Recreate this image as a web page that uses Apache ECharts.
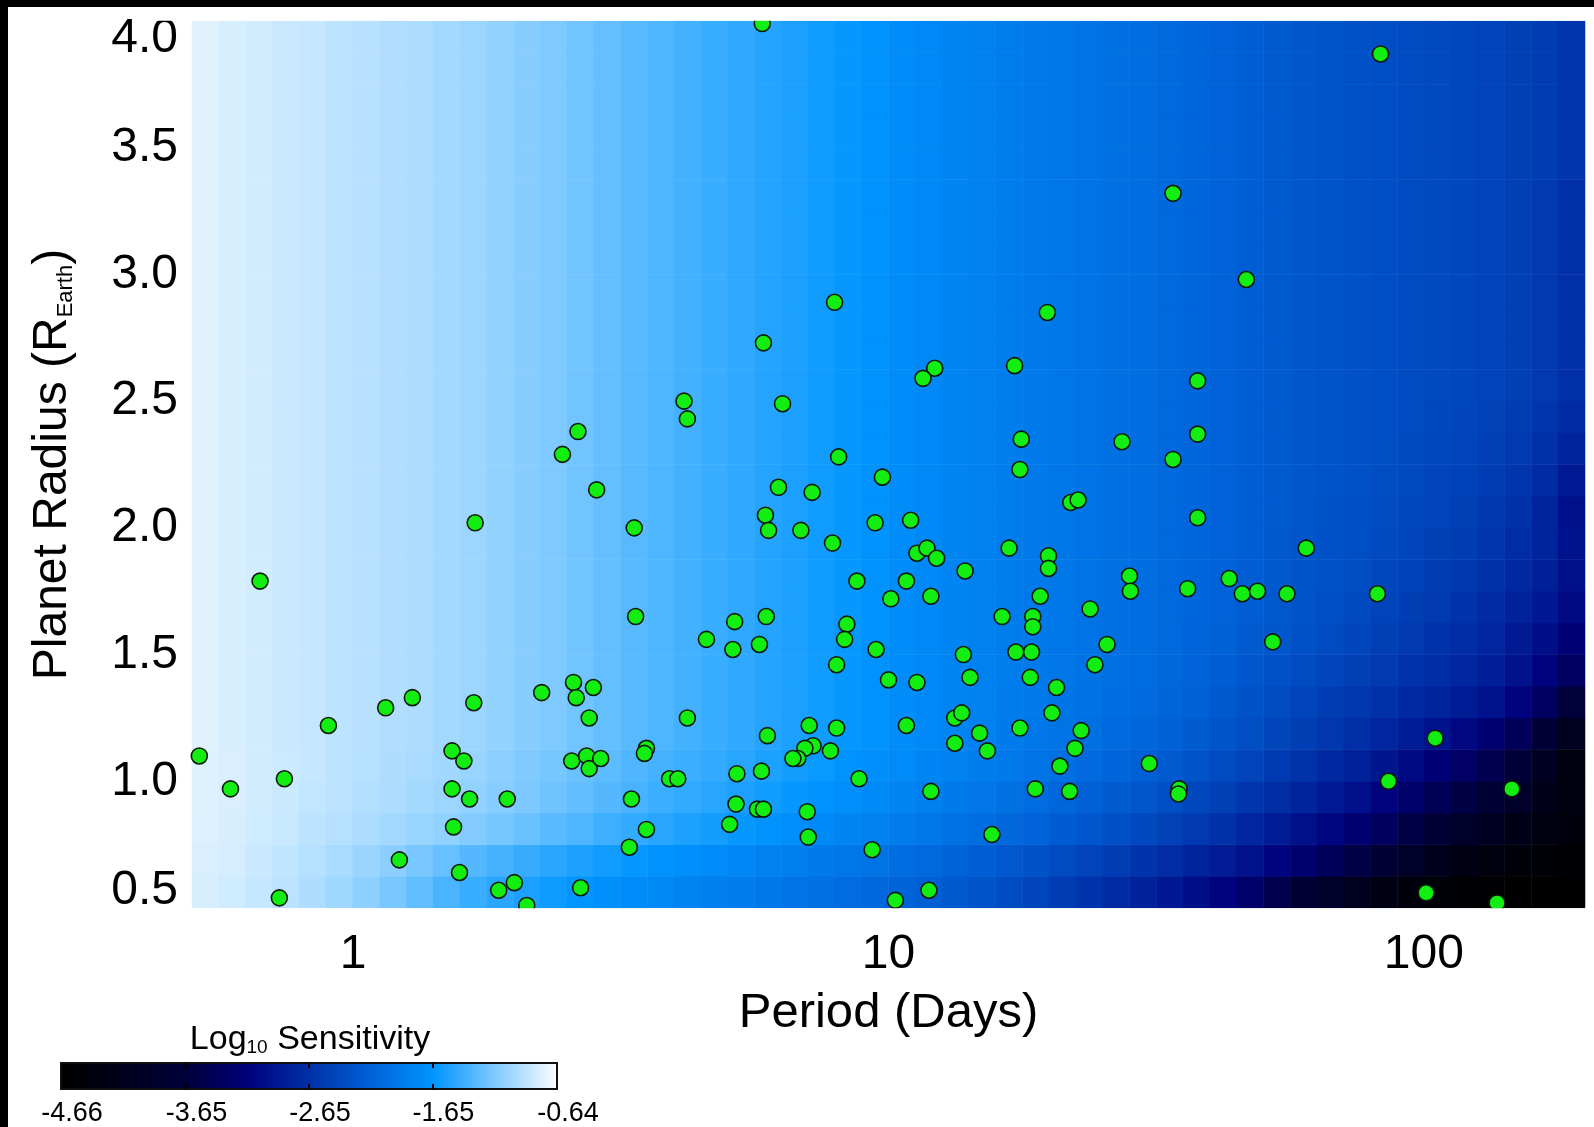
<!DOCTYPE html>
<html>
<head>
<meta charset="utf-8">
<script src="https://cdn.jsdelivr.net/npm/echarts@6/dist/echarts.min.js"></script>
<style>
html, body { margin: 0; padding: 0; background: #fff; }
#chart { width: 1594px; height: 1127px; }
</style>
</head>
<body>
<div id="chart"></div>
<script>
// Sensitivity map bins: log10(period / days) column centres, radius row centres (R_Earth)
const logPeriodBins = [
  -0.275, -0.225, -0.175, -0.125, -0.075, -0.025, 0.025, 0.075, 0.125, 0.175,
  0.225, 0.275, 0.325, 0.375, 0.425, 0.475, 0.525, 0.575, 0.625, 0.675,
  0.725, 0.775, 0.825, 0.875, 0.925, 0.975, 1.025, 1.075, 1.125, 1.175,
  1.225, 1.275, 1.325, 1.375, 1.425, 1.475, 1.525, 1.575, 1.625, 1.675,
  1.725, 1.775, 1.825, 1.875, 1.925, 1.975, 2.025, 2.075, 2.125, 2.175,
  2.225, 2.275
];
const radiusBins = [0.5625, 0.6875, 0.8125, 0.9375, 1.0625, 1.1875, 1.3125, 1.4375, 1.5625, 1.6875,
                    1.8125, 1.9375, 2.0625, 2.1875, 2.3125, 2.4375, 2.5625, 2.6875, 2.8125, 2.9375,
                    3.0625, 3.1875, 3.3125, 3.4375, 3.5625, 3.6875, 3.8125, 3.9375];

// log10 sensitivity rows (radius bins, bottom first); each row runs over the period bins
const rowR0563 = [-0.80,-0.83,-0.87,-0.91,-0.96,-1.02,-1.09,-1.17,-1.26,-1.35,-1.42,-1.48,-1.54,-1.59,-1.64,-1.69,-1.73,-1.77,-1.81,-1.85,-1.89,-1.93,-1.97,-2.01,-2.05,-2.09,-2.13,-2.18,-2.24,-2.30,-2.37,-2.44,-2.52,-2.61,-2.70,-2.80,-2.90,-3.00,-3.12,-3.28,-3.50,-3.72,-3.92,-4.10,-4.28,-4.42,-4.52,-4.58,-4.62,-4.64,-4.65,-4.65];
const rowR0688 = [-0.79,-0.81,-0.85,-0.89,-0.93,-0.98,-1.04,-1.10,-1.17,-1.24,-1.31,-1.37,-1.43,-1.48,-1.53,-1.58,-1.62,-1.66,-1.70,-1.74,-1.78,-1.82,-1.86,-1.90,-1.94,-1.98,-2.03,-2.08,-2.13,-2.19,-2.25,-2.31,-2.38,-2.46,-2.53,-2.61,-2.69,-2.78,-2.87,-2.97,-3.10,-3.25,-3.40,-3.56,-3.75,-3.95,-4.13,-4.28,-4.40,-4.48,-4.53,-4.57];
const rowR0813 = [-0.78,-0.80,-0.83,-0.86,-0.90,-0.93,-0.97,-1.00,-1.04,-1.08,-1.13,-1.18,-1.23,-1.29,-1.34,-1.40,-1.45,-1.49,-1.53,-1.57,-1.62,-1.66,-1.71,-1.75,-1.80,-1.84,-1.89,-1.94,-1.99,-2.04,-2.09,-2.15,-2.21,-2.27,-2.34,-2.41,-2.48,-2.56,-2.64,-2.76,-2.86,-2.98,-3.09,-3.22,-3.37,-3.55,-3.72,-3.90,-4.07,-4.22,-4.35,-4.45];
const rowR0938 = [-0.77,-0.79,-0.82,-0.85,-0.88,-0.91,-0.94,-0.97,-1.00,-1.03,-1.07,-1.11,-1.16,-1.21,-1.26,-1.31,-1.36,-1.41,-1.45,-1.49,-1.54,-1.58,-1.62,-1.66,-1.71,-1.75,-1.80,-1.85,-1.90,-1.95,-2.00,-2.05,-2.11,-2.17,-2.22,-2.28,-2.35,-2.42,-2.50,-2.60,-2.69,-2.78,-2.88,-2.98,-3.12,-3.28,-3.43,-3.58,-3.75,-3.95,-4.20,-4.40];
const rowR1063 = [-0.77,-0.79,-0.82,-0.84,-0.87,-0.90,-0.93,-0.96,-0.98,-1.01,-1.05,-1.09,-1.14,-1.18,-1.23,-1.28,-1.33,-1.37,-1.41,-1.45,-1.49,-1.53,-1.57,-1.61,-1.66,-1.70,-1.74,-1.79,-1.83,-1.88,-1.92,-1.97,-2.02,-2.07,-2.12,-2.17,-2.23,-2.30,-2.38,-2.46,-2.55,-2.63,-2.72,-2.81,-2.92,-3.05,-3.18,-3.32,-3.50,-3.70,-4.05,-4.40];
const rowR1188 = [-0.76,-0.80,-0.82,-0.85,-0.87,-0.90,-0.92,-0.95,-0.97,-1.00,-1.03,-1.07,-1.11,-1.15,-1.20,-1.25,-1.30,-1.34,-1.38,-1.42,-1.46,-1.50,-1.54,-1.58,-1.62,-1.67,-1.72,-1.76,-1.80,-1.84,-1.90,-1.94,-1.98,-2.02,-2.07,-2.11,-2.16,-2.22,-2.29,-2.36,-2.44,-2.51,-2.59,-2.67,-2.76,-2.86,-2.96,-3.08,-3.22,-3.40,-3.70,-4.10];
const rowR1313 = [-0.76,-0.80,-0.82,-0.85,-0.87,-0.90,-0.92,-0.95,-0.97,-1.00,-1.03,-1.07,-1.11,-1.15,-1.20,-1.25,-1.30,-1.34,-1.38,-1.42,-1.46,-1.50,-1.54,-1.58,-1.62,-1.67,-1.72,-1.76,-1.80,-1.84,-1.89,-1.92,-1.96,-1.99,-2.03,-2.07,-2.12,-2.17,-2.24,-2.31,-2.38,-2.45,-2.52,-2.58,-2.64,-2.71,-2.78,-2.86,-2.97,-3.12,-3.35,-3.65];
const rowR1438 = [-0.76,-0.80,-0.82,-0.85,-0.87,-0.90,-0.92,-0.95,-0.97,-1.00,-1.03,-1.07,-1.11,-1.15,-1.20,-1.25,-1.30,-1.34,-1.38,-1.42,-1.46,-1.50,-1.54,-1.58,-1.62,-1.67,-1.72,-1.76,-1.80,-1.84,-1.88,-1.91,-1.95,-1.98,-2.02,-2.05,-2.09,-2.14,-2.20,-2.26,-2.32,-2.38,-2.44,-2.50,-2.56,-2.62,-2.68,-2.74,-2.83,-2.95,-3.12,-3.35];
const rowR1563 = [-0.76,-0.80,-0.82,-0.85,-0.87,-0.90,-0.92,-0.95,-0.97,-1.00,-1.03,-1.07,-1.11,-1.15,-1.20,-1.25,-1.30,-1.34,-1.38,-1.42,-1.46,-1.50,-1.54,-1.58,-1.62,-1.67,-1.72,-1.76,-1.80,-1.84,-1.88,-1.91,-1.94,-1.97,-2.01,-2.04,-2.08,-2.12,-2.17,-2.22,-2.27,-2.32,-2.38,-2.44,-2.50,-2.56,-2.62,-2.68,-2.76,-2.88,-3.00,-3.18];
const rowR1688 = [-0.76,-0.80,-0.82,-0.85,-0.87,-0.90,-0.92,-0.95,-0.97,-1.00,-1.03,-1.07,-1.11,-1.15,-1.20,-1.25,-1.30,-1.34,-1.38,-1.42,-1.46,-1.50,-1.54,-1.58,-1.62,-1.67,-1.72,-1.76,-1.80,-1.84,-1.88,-1.91,-1.94,-1.97,-2.01,-2.04,-2.08,-2.11,-2.15,-2.20,-2.25,-2.30,-2.35,-2.40,-2.45,-2.51,-2.56,-2.62,-2.70,-2.80,-2.90,-3.05];
const rowR1813 = [-0.76,-0.80,-0.82,-0.85,-0.87,-0.90,-0.92,-0.95,-0.97,-1.00,-1.03,-1.07,-1.11,-1.15,-1.20,-1.25,-1.30,-1.34,-1.38,-1.42,-1.46,-1.50,-1.54,-1.58,-1.62,-1.67,-1.72,-1.76,-1.80,-1.84,-1.88,-1.91,-1.94,-1.97,-2.01,-2.04,-2.08,-2.11,-2.15,-2.20,-2.24,-2.29,-2.33,-2.37,-2.42,-2.47,-2.52,-2.57,-2.64,-2.73,-2.82,-2.98];
const rowR1938 = [-0.76,-0.80,-0.82,-0.85,-0.87,-0.90,-0.92,-0.95,-0.97,-1.00,-1.03,-1.07,-1.11,-1.15,-1.20,-1.25,-1.30,-1.34,-1.38,-1.42,-1.46,-1.50,-1.54,-1.58,-1.62,-1.67,-1.72,-1.76,-1.80,-1.84,-1.88,-1.91,-1.94,-1.97,-2.01,-2.04,-2.08,-2.11,-2.15,-2.19,-2.24,-2.28,-2.32,-2.35,-2.40,-2.44,-2.49,-2.53,-2.60,-2.68,-2.78,-2.95];
const rowR2063 = [-0.76,-0.80,-0.82,-0.85,-0.87,-0.90,-0.92,-0.95,-0.97,-1.00,-1.03,-1.07,-1.11,-1.15,-1.20,-1.25,-1.30,-1.34,-1.38,-1.42,-1.46,-1.50,-1.54,-1.58,-1.62,-1.67,-1.72,-1.76,-1.80,-1.84,-1.88,-1.91,-1.94,-1.97,-2.01,-2.04,-2.08,-2.11,-2.15,-2.19,-2.23,-2.27,-2.31,-2.34,-2.38,-2.42,-2.46,-2.50,-2.57,-2.64,-2.78,-2.98];
const rowR2188 = [-0.76,-0.80,-0.82,-0.85,-0.87,-0.90,-0.92,-0.95,-0.97,-1.00,-1.03,-1.07,-1.11,-1.15,-1.20,-1.25,-1.30,-1.34,-1.38,-1.42,-1.46,-1.50,-1.54,-1.58,-1.62,-1.67,-1.72,-1.76,-1.80,-1.84,-1.88,-1.91,-1.94,-1.97,-2.01,-2.04,-2.08,-2.11,-2.15,-2.19,-2.23,-2.26,-2.30,-2.33,-2.37,-2.40,-2.44,-2.47,-2.53,-2.60,-2.70,-2.88];
const rowR2313 = [-0.76,-0.80,-0.82,-0.85,-0.87,-0.90,-0.92,-0.95,-0.97,-1.00,-1.03,-1.07,-1.11,-1.15,-1.20,-1.25,-1.30,-1.34,-1.38,-1.42,-1.46,-1.50,-1.54,-1.58,-1.62,-1.67,-1.72,-1.76,-1.80,-1.84,-1.88,-1.91,-1.94,-1.97,-2.01,-2.04,-2.08,-2.11,-2.15,-2.19,-2.23,-2.26,-2.29,-2.32,-2.36,-2.39,-2.42,-2.45,-2.50,-2.56,-2.64,-2.78];
const rowR2438 = [-0.76,-0.80,-0.82,-0.85,-0.87,-0.90,-0.92,-0.95,-0.97,-1.00,-1.03,-1.07,-1.11,-1.15,-1.20,-1.25,-1.30,-1.34,-1.38,-1.42,-1.46,-1.50,-1.54,-1.58,-1.62,-1.67,-1.72,-1.76,-1.80,-1.84,-1.88,-1.91,-1.94,-1.97,-2.01,-2.04,-2.08,-2.11,-2.15,-2.19,-2.23,-2.26,-2.29,-2.32,-2.35,-2.38,-2.41,-2.44,-2.48,-2.53,-2.60,-2.70];
const rowMid   = [-0.76,-0.80,-0.82,-0.85,-0.87,-0.90,-0.92,-0.95,-0.97,-1.00,-1.03,-1.07,-1.11,-1.15,-1.20,-1.25,-1.30,-1.34,-1.38,-1.42,-1.46,-1.50,-1.54,-1.58,-1.62,-1.67,-1.72,-1.76,-1.80,-1.84,-1.88,-1.91,-1.94,-1.97,-2.01,-2.04,-2.08,-2.11,-2.15,-2.19,-2.23,-2.26,-2.29,-2.32,-2.35,-2.38,-2.40,-2.43,-2.46,-2.50,-2.56,-2.66];
const rowTop   = [-0.76,-0.80,-0.82,-0.85,-0.87,-0.90,-0.92,-0.95,-0.97,-1.00,-1.03,-1.07,-1.11,-1.15,-1.20,-1.25,-1.30,-1.34,-1.38,-1.42,-1.46,-1.50,-1.54,-1.58,-1.62,-1.67,-1.72,-1.76,-1.80,-1.84,-1.88,-1.91,-1.94,-1.97,-2.01,-2.04,-2.08,-2.11,-2.15,-2.19,-2.23,-2.26,-2.29,-2.32,-2.35,-2.38,-2.40,-2.43,-2.46,-2.49,-2.53,-2.60];

const sensitivity = [
  rowR0563, rowR0688, rowR0813, rowR0938, rowR1063, rowR1188, rowR1313, rowR1438,
  rowR1563, rowR1688, rowR1813, rowR1938, rowR2063, rowR2188, rowR2313, rowR2438,
  rowMid, rowMid, rowMid, rowMid, rowMid, rowMid, rowMid,
  rowTop, rowTop, rowTop, rowTop, rowTop
];

// Planet candidates: orbital period (days) and radius (R_Earth)
const periods = [
  0.516, 0.590, 0.670, 0.744, 0.728, 0.899, 1.15, 1.22, 1.29, 1.53,
  1.61, 1.53, 1.65, 1.54, 1.58, 1.68, 1.69, 1.87, 2.00, 1.94,
  2.11, 2.25, 2.46, 2.63, 2.85, 2.58, 2.61, 2.81, 2.76, 2.56,
  2.73, 2.76, 2.90, 2.66, 3.35, 3.37, 3.53, 3.50, 3.31, 3.53,
  3.28, 3.90, 4.04, 4.21, 4.57, 5.16, 5.91, 5.12, 5.74, 5.21,
  5.19, 5.05, 5.79, 5.94, 5.69, 5.84, 7.11, 8.00, 7.79, 7.23,
  6.98, 6.77, 6.63, 7.05, 7.08, 8.81, 8.36, 8.28, 8.00, 9.48,
  10.1, 10.0, 11.3, 10.8, 9.32, 10.3, 11.9, 12.0, 13.3, 13.7,
  13.3, 14.8, 15.3, 13.8, 14.2, 12.0, 15.6, 16.3, 18.6, 18.6,
  19.2, 17.3, 18.5, 18.4, 20.6, 20.2, 17.6, 22.9, 22.3, 20.9,
  18.8, 21.8, 23.8, 24.3, 25.6, 30.7, 34.9, 34.8, 52.2, 85.9,
  105, 146, 101, 137, 7.93, 19.8, 5.84, 12.2, 11.6, 17.2,
  4.15, 4.21, 6.34, 17.7, 17.6, 8.07, 9.74, 6.23, 7.20, 5.89,
  5.97, 6.86, 7.86, 9.44, 11.0, 21.9, 22.6, 16.8, 19.9, 19.9,
  11.3, 11.8, 12.3, 13.9, 8.73, 10.8, 37.8, 27.3, 37.8, 34.0,
  37.8, 60.3, 28.2, 28.3, 36.2, 43.3, 45.8, 48.9, 55.5, 81.9,
  83.0, 34.0, 46.6, 5.81
];
const radii = [
  1.10, 0.97, 1.79, 1.01, 0.54, 1.22, 1.29, 0.69, 1.33, 1.12,
  1.08, 0.97, 0.93, 0.82, 0.64, 1.31, 2.02, 0.57, 0.60, 0.93,
  0.51, 1.35, 2.29, 2.38, 2.15, 1.39, 1.33, 1.37, 1.25, 1.08,
  1.10, 1.05, 1.09, 0.58, 2.00, 1.65, 1.13, 1.11, 0.93, 0.81,
  0.74, 1.01, 1.01, 1.25, 1.56, 1.63, 1.65, 1.52, 1.54, 1.03,
  0.91, 0.83, 1.04, 1.18, 0.89, 0.89, 1.22, 1.21, 1.12, 1.14,
  1.13, 1.09, 1.09, 0.88, 0.78, 1.01, 1.62, 1.56, 1.46, 1.52,
  1.72, 1.40, 1.39, 1.22, 0.73, 0.53, 0.57, 0.96, 1.25, 1.27,
  1.15, 1.19, 1.12, 1.50, 1.41, 1.73, 0.79, 1.65, 1.65, 1.61,
  1.73, 1.51, 1.51, 1.41, 1.37, 1.27, 1.21, 1.20, 1.13, 1.06,
  0.97, 0.96, 1.68, 1.46, 1.54, 1.07, 0.97, 0.95, 1.55, 1.00,
  1.17, 0.97, 0.56, 0.52, 2.89, 2.85, 2.73, 2.63, 2.59, 2.64,
  2.50, 2.43, 2.49, 2.35, 2.23, 2.28, 2.20, 2.16, 2.14, 2.05,
  1.99, 1.99, 1.94, 2.02, 2.03, 2.10, 2.11, 1.92, 1.89, 1.84,
  1.90, 1.92, 1.88, 1.83, 1.79, 1.79, 2.58, 2.34, 2.37, 2.27,
  2.04, 1.92, 1.81, 1.75, 1.76, 1.80, 1.74, 1.75, 1.74, 1.74,
  3.87, 3.32, 2.98, 3.99
];

// Axis and colour-bar ticks
const periodTicks = [1, 10, 100];
const radiusTicks = [0.5, 1.0, 1.5, 2.0, 2.5, 3.0, 3.5, 4.0];
const colorbarTicks = [-4.66, -3.65, -2.65, -1.65, -0.64];
const colorbarInnerTicks = [-3.65, -2.65, -1.65];

// Colour table, evenly spaced from the lowest to the highest log sensitivity
const sensitivityColors = ['#000000', '#00001c', '#00003a', '#00007a', '#0030a8',
                           '#0062d8', '#0095ff', '#80caff', '#ffffff'];

const FONT = '"Liberation Sans", Arial, Helvetica, sans-serif';

const heatData = [];
sensitivity.forEach((row, yi) => row.forEach((v, xi) => heatData.push([xi, yi, v])));
const planets = periods.map((p, i) => [p, radii[i]]);

const sMin = colorbarTicks[0];
const sMax = colorbarTicks[colorbarTicks.length - 1];
const barGradient = new echarts.graphic.LinearGradient(0, 0, 1, 0,
  sensitivityColors.map((c, i) => ({ offset: i / (sensitivityColors.length - 1), color: c })));

const chart = echarts.init(document.getElementById('chart'), null, { renderer: 'canvas' });

const option = {
  backgroundColor: '#ffffff',
  animation: false,
  title: {
    text: '{m|Log}{s|10}{m| Sensitivity}',
    left: 310,
    top: 1023,
    padding: 0,
    textAlign: 'center',
    textStyle: {
      fontWeight: 'normal',
      rich: {
        m: { fontSize: 34, fontFamily: FONT, fontWeight: 'normal', color: '#000' },
        s: { fontSize: 19, fontFamily: FONT, fontWeight: 'normal', color: '#000', verticalAlign: 'bottom' }
      }
    }
  },
  grid: [
    { left: 192, top: 21, width: 1393, height: 887 },
    { left: 61, top: 1063, width: 496, height: 26, show: true,
      backgroundColor: barGradient, borderColor: '#111', borderWidth: 2 }
  ],
  xAxis: [
    { type: 'category', gridIndex: 0, position: 'top', data: logPeriodBins, show: false },
    {
      type: 'log', gridIndex: 0, position: 'bottom', logBase: 10, min: 0.5, max: 200,
      axisLine: { show: false }, axisTick: { show: false }, splitLine: { show: false },
      axisLabel: {
        customValues: periodTicks,
        formatter: v => String(v),
        fontSize: 48, fontFamily: FONT, color: '#000', margin: 23
      },
      name: 'Period (Days)', nameLocation: 'middle', nameGap: 81,
      nameTextStyle: { fontSize: 49, fontFamily: FONT, color: '#000' }
    },
    {
      type: 'value', gridIndex: 1, position: 'bottom', min: sMin, max: sMax,
      axisLine: { show: false }, splitLine: { show: false },
      axisTick: { show: true, inside: true, length: 5, customValues: colorbarInnerTicks,
                  lineStyle: { color: '#000', width: 2 } },
      axisLabel: {
        customValues: colorbarTicks,
        formatter: v => v.toFixed(2),
        fontSize: 27, fontFamily: FONT, color: '#000', margin: 11,
        padding: [0, 0, 0, 22]
      }
    },
    {
      type: 'value', gridIndex: 1, position: 'top', min: sMin, max: sMax,
      axisLine: { show: false }, splitLine: { show: false }, axisLabel: { show: false },
      axisTick: { show: true, inside: true, length: 5, customValues: colorbarInnerTicks,
                  lineStyle: { color: '#000', width: 2 } }
    }
  ],
  yAxis: [
    { type: 'category', gridIndex: 0, position: 'right', data: radiusBins, show: false },
    {
      type: 'value', gridIndex: 0, position: 'left',
      min: radiusTicks[0], max: radiusTicks[radiusTicks.length - 1], interval: 0.5,
      axisLine: { show: false }, axisTick: { show: false }, splitLine: { show: false },
      axisLabel: {
        fontSize: 48, fontFamily: FONT, color: '#000', margin: 14,
        formatter: v => {
          const t = v.toFixed(1);
          if (v === radiusTicks[radiusTicks.length - 1]) return '{hi|' + t + '}';
          if (v === radiusTicks[0]) return '{lo|' + t + '}';
          return t;
        },
        rich: {
          hi: { fontSize: 48, fontFamily: FONT, color: '#000', padding: [36, 0, 0, 0] },
          lo: { fontSize: 48, fontFamily: FONT, color: '#000', padding: [0, 0, 35, 0] }
        }
      },
      name: '{m|Planet Radius (R}{s|Earth}{m|)}',
      nameLocation: 'middle', nameRotate: 90, nameGap: 115,
      nameTextStyle: {
        rich: {
          m: { fontSize: 48, fontFamily: FONT, color: '#000' },
          s: { fontSize: 22, fontFamily: FONT, color: '#000', verticalAlign: 'bottom' }
        }
      }
    },
    { type: 'value', gridIndex: 1, min: 0, max: 1, show: false }
  ],
  visualMap: {
    type: 'continuous', show: false, seriesIndex: 0, dimension: 2,
    min: sMin, max: sMax,
    inRange: { color: sensitivityColors }
  },
  graphic: [
    // plot-area clipping strips above and below the map
    { type: 'rect', z: 90, shape: { x: 150, y: 7, width: 1444, height: 13.8 }, style: { fill: '#fff' } },
    { type: 'rect', z: 90, shape: { x: 150, y: 908.2, width: 1444, height: 12 }, style: { fill: '#fff' } },
    // dark frame along the top and left edges
    { type: 'rect', z: 100, shape: { x: 0, y: 0, width: 1594, height: 7 }, style: { fill: '#000' } },
    { type: 'rect', z: 100, shape: { x: 0, y: 0, width: 8, height: 1127 }, style: { fill: '#000' } }
  ],
  series: [
    {
      type: 'heatmap', xAxisIndex: 0, yAxisIndex: 0, data: heatData,
      itemStyle: { borderWidth: 0 }, emphasis: { disabled: true }, progressive: 0
    },
    {
      type: 'scatter', xAxisIndex: 1, yAxisIndex: 1, data: planets,
      symbol: 'circle', symbolSize: 16, z: 5,
      itemStyle: { color: '#12ee12', borderColor: '#0b1a0b', borderWidth: 1.6, opacity: 1 },
      emphasis: { disabled: true }
    }
  ]
};

chart.setOption(option);
</script>
</body>
</html>
